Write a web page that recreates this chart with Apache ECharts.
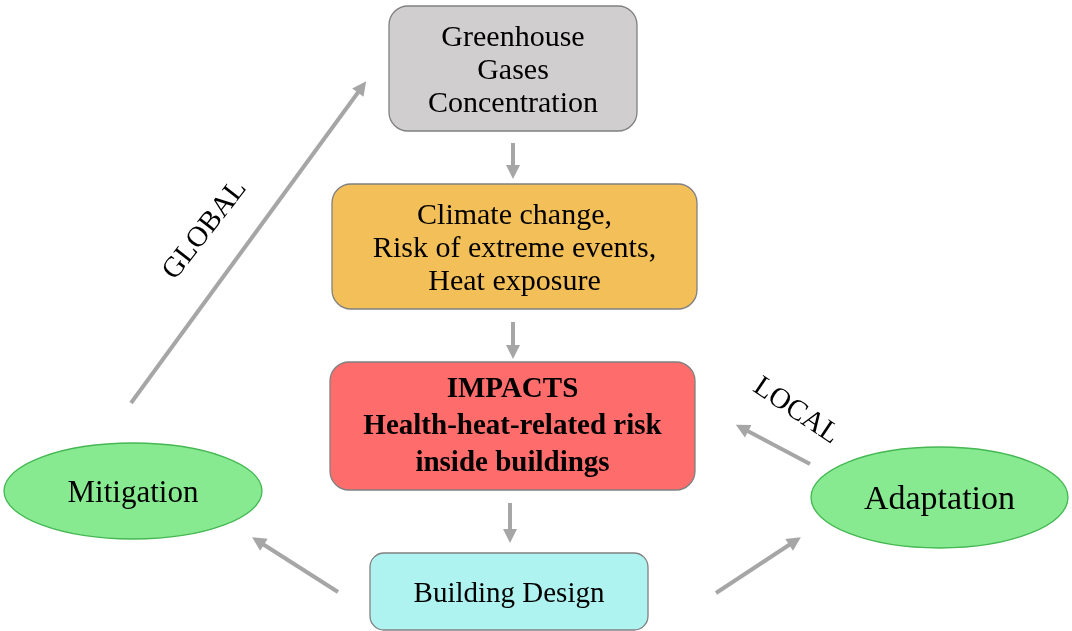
<!DOCTYPE html>
<html>
<head>
<meta charset="utf-8">
<script src="https://cdn.jsdelivr.net/npm/echarts@6/dist/echarts.min.js"></script>
<style>
html, body { margin: 0; padding: 0; background: #fff; }
#chart { width: 1072px; height: 631px; }
</style>
</head>
<body>
<div id="chart"></div>
<script>
// boxes of the flow (centre, width, height in the diagram's 1072 x 631 space)
var boxLabels = ['Greenhouse\nGases\nConcentration', 'Climate change,\nRisk of extreme events,\nHeat exposure', 'IMPACTS\nHealth-heat-related risk\ninside buildings', 'Building Design'];
var boxCenters = [[513, 68.5], [514.5, 246.5], [512.5, 426], [509, 591.5]];
var boxSizes = [[248, 125], [365, 125], [365, 128], [278, 77]];

// the two strategies
var ovalLabels = ['Mitigation', 'Adaptation'];
var ovalCenters = [[133, 491], [939.5, 497.5]];
var ovalSizes = [[258, 96], [257, 101]];

// arrows: start and end points
var arrowFrom = [[513, 143], [513, 322], [510, 503], [131, 403], [810, 464], [338, 592], [716, 593]];
var arrowTo = [[513, 172], [513, 352], [510, 536], [362, 87], [742, 428], [258, 541], [795, 541]];

// rotated words along the side arrows
var sideLabels = ['GLOBAL', 'LOCAL'];
var sideCenters = [[205, 230], [796, 411]];
var sideAngles = [52, -34];

var boxFill = ['#D0CECE', '#F3BF58', '#FF6C6C', '#AEF3F0'];
var boxFont = ['30px "Liberation Serif"', '30px "Liberation Serif"', 'bold 29px "Liberation Serif"', '29px "Liberation Serif"'];
var boxLine = [33, 33, 37, 33];
var boxShift = [3, 3, 1, 3];
var ovalFont = ['31px "Liberation Serif"', '34px "Liberation Serif"'];

var chart = echarts.init(document.getElementById('chart'));

chart.setOption({
	animation: false,
	grid: { left: 0, right: 0, top: 0, bottom: 0 },
	xAxis: { type: 'value', min: 0, max: 1072, show: false },
	yAxis: { type: 'value', min: 0, max: 631, inverse: true, show: false },
	series: [
		{
			// arrows
			type: 'lines',
			coordinateSystem: 'cartesian2d',
			silent: true,
			symbol: ['none', 'triangle'],
			symbolSize: 14,
			lineStyle: { color: '#A6A6A6', width: 4, opacity: 1, curveness: 0 },
			data: arrowFrom.map(function (f, i) { return { coords: [f, arrowTo[i]] }; }),
			z: 1
		},
		{
			// rounded boxes
			type: 'custom',
			clip: false,
			silent: true,
			data: boxCenters.map(function (c, i) { return [c[0], c[1], boxSizes[i][0], boxSizes[i][1]]; }),
			renderItem: function (params, api) {
				var i = params.dataIndex;
				var a = api.coord([api.value(0) - api.value(2) / 2, api.value(1) - api.value(3) / 2]);
				var b = api.coord([api.value(0) + api.value(2) / 2, api.value(1) + api.value(3) / 2]);
				var c = api.coord([api.value(0), api.value(1)]);
				return {
					type: 'group',
					children: [
						{
							type: 'rect',
							shape: { x: a[0], y: a[1], width: b[0] - a[0], height: b[1] - a[1], r: i === 3 ? 14 : 19 },
							style: { fill: boxFill[i], stroke: '#808080', lineWidth: 1.3 }
						},
						{
							type: 'text',
							x: c[0], y: c[1] + boxShift[i],
							style: { text: boxLabels[i], fill: '#000', font: boxFont[i], align: 'center', verticalAlign: 'middle', lineHeight: boxLine[i] }
						}
					]
				};
			},
			z: 2
		},
		{
			// ovals
			type: 'custom',
			clip: false,
			silent: true,
			data: ovalCenters.map(function (c, i) { return [c[0], c[1], ovalSizes[i][0], ovalSizes[i][1]]; }),
			renderItem: function (params, api) {
				var i = params.dataIndex;
				var c = api.coord([api.value(0), api.value(1)]);
				return {
					type: 'group',
					children: [
						{
							type: 'ellipse',
							shape: { cx: c[0], cy: c[1], rx: api.value(2) / 2, ry: api.value(3) / 2 },
							style: { fill: '#88EA90', stroke: '#45B853', lineWidth: 1.3 }
						},
						{
							type: 'text',
							x: c[0], y: c[1] + 3,
							style: { text: ovalLabels[i], fill: '#000', font: ovalFont[i], align: 'center', verticalAlign: 'middle' }
						}
					]
				};
			},
			z: 2
		},
		{
			// GLOBAL / LOCAL
			type: 'custom',
			clip: false,
			silent: true,
			data: sideCenters.map(function (c) { return [c[0], c[1]]; }),
			renderItem: function (params, api) {
				var i = params.dataIndex;
				var c = api.coord([api.value(0), api.value(1)]);
				return {
					type: 'text',
					x: c[0], y: c[1],
					rotation: sideAngles[i] * Math.PI / 180,
					style: { text: sideLabels[i], fill: '#000', font: '29px "Liberation Serif"', align: 'center', verticalAlign: 'middle' }
				};
			},
			z: 3
		}
	]
});
</script>
</body>
</html>
